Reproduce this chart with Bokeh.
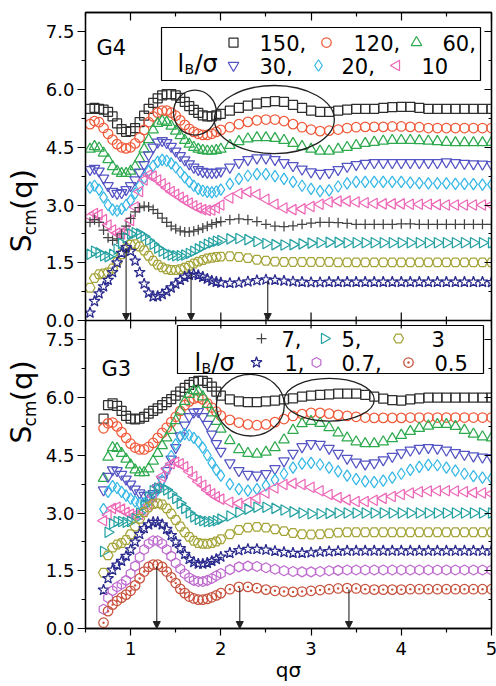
import math
from bokeh.plotting import figure
from bokeh.layouts import row
from bokeh.models import (Range1d, FixedTicker, LinearAxis, PrintfTickFormatter, Label, Arrow,
                          NormalHead, BoxAnnotation, Span, CustomLabelingPolicy)
from bokeh.core.properties import value
from bokeh.embed import file_html
from bokeh.resources import INLINE

FONT = "DejaVu Sans"

# ---------------- data: panel G4 (top) ----------------
q_g4 = [0.55, 0.60, 0.65, 0.70, 0.75, 0.80, 0.85, 0.90, 0.95, 1.00, 1.05, 1.10, 1.15, 1.20, 1.25,
        1.30, 1.35, 1.40, 1.45, 1.50, 1.55, 1.60, 1.65, 1.70, 1.75, 1.80, 1.85, 1.90, 1.95,
        2.0, 2.1, 2.2, 2.3, 2.4, 2.5, 2.6, 2.7, 2.8, 2.9, 3.0, 3.1, 3.2, 3.3, 3.4, 3.5, 3.6, 3.7,
        3.8, 3.9, 4.0, 4.1, 4.2, 4.3, 4.4, 4.5, 4.6, 4.7, 4.8, 4.9, 5.0]

g4_150 = [5.5, 5.52, 5.5, 5.48, 5.42, 5.3, 5.12, 4.97, 4.9, 4.92, 5.0, 5.15, 5.32, 5.5, 5.65,
          5.77, 5.85, 5.88, 5.88, 5.85, 5.78, 5.68, 5.57, 5.47, 5.39, 5.33, 5.3, 5.3, 5.33,
          5.37, 5.45, 5.52, 5.58, 5.63, 5.67, 5.7, 5.68, 5.6, 5.52, 5.45, 5.42, 5.42, 5.45, 5.48, 5.5,
          5.5, 5.5, 5.52, 5.54, 5.55, 5.55, 5.52, 5.5, 5.5, 5.5, 5.5, 5.5, 5.5, 5.5, 5.5]
g4_120 = [5.1, 5.18, 5.15, 5.0, 4.85, 4.7, 4.58, 4.5, 4.47, 4.5, 4.6, 4.75, 4.95, 5.15, 5.3,
          5.4, 5.45, 5.45, 5.4, 5.32, 5.2, 5.08, 4.98, 4.9, 4.85, 4.82, 4.82, 4.85, 4.9,
          4.95, 5.02, 5.1, 5.16, 5.2, 5.22, 5.22, 5.18, 5.1, 5.02, 4.96, 4.92, 4.93, 4.96, 5.0, 5.02,
          5.03, 5.03, 5.03, 5.04, 5.04, 5.03, 5.02, 5.0, 5.0, 5.0, 5.0, 5.0, 5.0, 5.0, 5.0]
g4_60 = [4.45, 4.52, 4.48, 4.35, 4.18, 4.0, 3.88, 3.82, 3.82, 3.88, 4.0, 4.2, 4.45, 4.7, 4.95,
         5.12, 5.18, 5.15, 5.05, 4.92, 4.8, 4.68, 4.58, 4.5, 4.45, 4.42, 4.4, 4.4, 4.42,
         4.45, 4.55, 4.65, 4.72, 4.75, 4.75, 4.73, 4.68, 4.6, 4.52, 4.45, 4.4, 4.4, 4.45, 4.5, 4.55,
         4.6, 4.63, 4.66, 4.68, 4.68, 4.68, 4.67, 4.66, 4.65, 4.63, 4.62, 4.62, 4.62, 4.62, 4.63]
g4_30 = [3.92, 3.95, 3.88, 3.7, 3.5, 3.35, 3.3, 3.32, 3.4, 3.5, 3.65, 3.85, 4.05, 4.3, 4.5,
         4.63, 4.67, 4.62, 4.52, 4.4, 4.28, 4.17, 4.07, 3.98, 3.92, 3.87, 3.85, 3.84, 3.85,
         3.88, 3.98, 4.1, 4.18, 4.22, 4.22, 4.18, 4.1, 4.02, 3.93, 3.86, 3.82, 3.84, 3.92, 4.0, 4.05,
         4.08, 4.1, 4.1, 4.1, 4.1, 4.1, 4.1, 4.1, 4.1, 4.12, 4.1, 4.08, 4.07, 4.06, 4.05]
g4_20 = [3.45, 3.5, 3.4, 3.2, 3.0, 2.88, 2.85, 2.9, 3.0, 3.12, 3.3, 3.5, 3.7, 3.88, 4.02,
         4.12, 4.17, 4.15, 4.08, 3.98, 3.85, 3.72, 3.6, 3.5, 3.42, 3.37, 3.34, 3.33, 3.35,
         3.4, 3.55, 3.68, 3.76, 3.8, 3.8, 3.75, 3.68, 3.6, 3.5, 3.42, 3.36, 3.38, 3.48, 3.56, 3.6,
         3.6, 3.6, 3.6, 3.6, 3.6, 3.58, 3.57, 3.56, 3.56, 3.56, 3.55, 3.55, 3.54, 3.53, 3.53]
g4_10 = [2.7, 2.78, 2.75, 2.62, 2.48, 2.35, 2.27, 2.25, 2.35, 2.6, 2.95, 3.35, 3.65, 3.78, 3.75,
         3.65, 3.55, 3.45, 3.35, 3.28, 3.2, 3.12, 3.05, 2.98, 2.92, 2.88, 2.86, 2.87, 2.92,
         3.0, 3.18, 3.3, 3.34, 3.28, 3.15, 3.02, 2.92, 2.88, 2.9, 2.96, 3.02, 3.08, 3.1, 3.1, 3.08,
         3.06, 3.04, 3.03, 3.03, 3.03, 3.02, 3.02, 3.02, 3.01, 3.0, 3.0, 3.0, 3.0, 3.0, 3.0]
g4_7 = [2.55, 2.62, 2.55, 2.35, 2.15, 2.08, 2.12, 2.25, 2.45, 2.65, 2.82, 2.93, 2.97, 2.95, 2.88,
        2.78, 2.66, 2.55, 2.45, 2.38, 2.33, 2.3, 2.3, 2.32, 2.36, 2.4, 2.45, 2.5, 2.54,
        2.57, 2.62, 2.64, 2.62, 2.57, 2.5, 2.45, 2.44, 2.46, 2.5, 2.53, 2.55, 2.55, 2.54, 2.52, 2.5,
        2.5, 2.5, 2.5, 2.5, 2.51, 2.51, 2.5, 2.5, 2.5, 2.5, 2.5, 2.5, 2.5, 2.5, 2.5]
g4_5 = [1.72, 1.8, 1.76, 1.68, 1.66, 1.72, 1.85, 2.0, 2.15, 2.25, 2.28, 2.25, 2.18, 2.08, 1.98,
        1.88, 1.8, 1.74, 1.7, 1.68, 1.68, 1.7, 1.74, 1.8, 1.86, 1.92, 1.98, 2.02, 2.06,
        2.08, 2.12, 2.13, 2.1, 2.05, 2.0, 1.97, 1.96, 1.97, 1.99, 2.01, 2.02, 2.03, 2.03, 2.02, 2.02,
        2.02, 2.02, 2.02, 2.02, 2.02, 2.02, 2.02, 2.02, 2.02, 2.02, 2.02, 2.02, 2.02, 2.02, 2.02]
g4_3 = [0.85, 1.1, 1.2, 1.22, 1.25, 1.35, 1.52, 1.72, 1.88, 1.97, 1.98, 1.92, 1.82, 1.68, 1.55,
        1.45, 1.38, 1.33, 1.31, 1.31, 1.33, 1.37, 1.42, 1.48, 1.53, 1.57, 1.61, 1.63, 1.65,
        1.66, 1.67, 1.65, 1.62, 1.58, 1.55, 1.53, 1.52, 1.52, 1.52, 1.52, 1.52, 1.52, 1.51, 1.51, 1.51,
        1.51, 1.51, 1.51, 1.51, 1.51, 1.51, 1.51, 1.51, 1.51, 1.51, 1.51, 1.51, 1.51, 1.51, 1.51]
g4_1 = [0.2, 0.5, 0.7, 0.88, 1.05, 1.25, 1.5, 1.75, 1.9, 1.8, 1.55, 1.25, 0.95, 0.72, 0.62,
        0.63, 0.68, 0.76, 0.85, 0.95, 1.05, 1.13, 1.18, 1.2, 1.18, 1.13, 1.08, 1.03, 1.0,
        0.98, 0.97, 0.98, 1.01, 1.04, 1.06, 1.05, 1.03, 1.01, 1.0, 0.99, 0.99, 1.0, 1.0, 1.0, 1.0,
        1.0, 1.0, 1.0, 1.0, 1.0, 1.0, 1.0, 1.0, 1.0, 1.0, 1.0, 1.0, 1.0, 1.0, 0.99]

# ---------------- data: panel G3 (bottom) ----------------
q_g3 = [0.70, 0.75, 0.80, 0.85, 0.90, 0.95, 1.00, 1.05, 1.10, 1.15, 1.20, 1.25, 1.30, 1.35,
        1.40, 1.45, 1.50, 1.55, 1.60, 1.65, 1.70, 1.75, 1.80, 1.85, 1.90, 1.95,
        2.0, 2.1, 2.2, 2.3, 2.4, 2.5, 2.6, 2.7, 2.8, 2.9, 3.0, 3.1, 3.2, 3.3, 3.4, 3.5, 3.6, 3.7,
        3.8, 3.9, 4.0, 4.1, 4.2, 4.3, 4.4, 4.5, 4.6, 4.7, 4.8, 4.9, 5.0]

g3_150 = [5.45, 5.8, 5.85, 5.78, 5.65, 5.52, 5.45, 5.43, 5.45, 5.5, 5.58, 5.65, 5.72, 5.8,
          5.88, 5.96, 6.05, 6.15, 6.25, 6.33, 6.4, 6.43, 6.43, 6.38, 6.28, 6.15,
          6.05, 5.95, 5.9, 5.88, 5.88, 5.9, 5.92, 5.95, 5.98, 6.02, 6.05, 6.07, 6.08, 6.1, 6.1, 6.1,
          6.07, 6.02, 5.97, 5.93, 5.92, 5.95, 5.98, 6.0, 6.0, 6.0, 6.0, 6.0, 6.0, 6.0, 6.0]
g3_120 = [5.2, 5.33, 5.35, 5.25, 5.1, 4.95, 4.8, 4.7, 4.65, 4.65, 4.72, 4.82, 4.95, 5.08,
          5.22, 5.36, 5.5, 5.65, 5.8, 5.9, 5.97, 6.0, 5.95, 5.85, 5.74, 5.63,
          5.53, 5.42, 5.35, 5.3, 5.28, 5.3, 5.36, 5.44, 5.52, 5.57, 5.6, 5.6, 5.58, 5.55, 5.52, 5.5,
          5.48, 5.47, 5.47, 5.47, 5.47, 5.48, 5.48, 5.48, 5.48, 5.48, 5.48, 5.48, 5.48, 5.48, 5.48]
g3_60 = [3.9, 4.45, 4.7, 4.68, 4.55, 4.4, 4.25, 4.12, 4.05, 4.05, 4.15, 4.35, 4.55, 4.75,
         4.95, 5.15, 5.4, 5.65, 5.9, 6.08, 6.18, 6.15, 6.02, 5.82, 5.6, 5.38,
         5.18, 4.88, 4.65, 4.55, 4.53, 4.58, 4.7, 4.9, 5.15, 5.32, 5.38, 5.33, 5.22, 5.08, 4.95, 4.85,
         4.8, 4.8, 4.85, 4.93, 5.02, 5.12, 5.2, 5.26, 5.3, 5.3, 5.25, 5.15, 5.05, 4.98, 4.95]
g3_30 = [3.6, 3.95, 4.12, 4.1, 4.0, 3.88, 3.75, 3.62, 3.52, 3.46, 3.45, 3.5, 3.65, 3.85,
         4.1, 4.4, 4.7, 5.0, 5.28, 5.5, 5.62, 5.63, 5.5, 5.3, 5.05, 4.8,
         4.6, 4.3, 4.1, 4.0, 3.98, 4.02, 4.15, 4.35, 4.55, 4.72, 4.8, 4.78, 4.68, 4.55, 4.42, 4.32,
         4.27, 4.3, 4.38, 4.47, 4.56, 4.63, 4.68, 4.7, 4.68, 4.63, 4.57, 4.52, 4.48, 4.45, 4.44]
g3_20 = [3.1, 3.55, 3.7, 3.65, 3.55, 3.45, 3.37, 3.3, 3.26, 3.25, 3.3, 3.42, 3.6, 3.85,
         4.15, 4.48, 4.78, 4.98, 5.05, 5.02, 4.95, 4.85, 4.7, 4.5, 4.3, 4.12,
         3.97, 3.75, 3.62, 3.58, 3.62, 3.72, 3.86, 4.02, 4.18, 4.28, 4.3, 4.26, 4.18, 4.08, 3.97, 3.88,
         3.82, 3.8, 3.84, 3.92, 4.02, 4.12, 4.2, 4.25, 4.24, 4.18, 4.1, 4.02, 3.96, 3.92, 3.9]
g3_10 = [2.8, 2.95, 3.12, 3.15, 3.1, 3.02, 2.97, 2.95, 2.96, 3.05, 3.2, 3.42, 3.68, 3.95,
         4.15, 4.28, 4.32, 4.28, 4.2, 4.08, 3.95, 3.82, 3.72, 3.6, 3.5, 3.42,
         3.36, 3.28, 3.25, 3.28, 3.38, 3.52, 3.65, 3.74, 3.77, 3.74, 3.67, 3.58, 3.48, 3.4, 3.34, 3.3,
         3.3, 3.33, 3.38, 3.43, 3.48, 3.52, 3.55, 3.57, 3.58, 3.58, 3.57, 3.55, 3.53, 3.52, 3.5]
g3_5 = [2.0, 2.5, 2.72, 2.78, 2.78, 2.76, 2.78, 2.85, 3.0, 3.2, 3.42, 3.58, 3.65, 3.65,
        3.6, 3.5, 3.38, 3.25, 3.12, 3.0, 2.9, 2.83, 2.8, 2.78, 2.78, 2.8,
        2.84, 2.92, 3.02, 3.1, 3.15, 3.15, 3.12, 3.08, 3.03, 3.0, 2.98, 2.98, 2.99, 3.0, 3.0, 3.0,
        3.0, 3.0, 3.0, 3.0, 3.0, 3.0, 3.0, 3.0, 3.0, 3.0, 3.0, 3.0, 3.0, 3.0, 3.0]
g3_3 = [1.45, 1.9, 2.1, 2.18, 2.22, 2.3, 2.45, 2.65, 2.85, 3.02, 3.15, 3.23, 3.25, 3.22,
        3.12, 2.98, 2.82, 2.65, 2.5, 2.38, 2.28, 2.22, 2.2, 2.2, 2.22, 2.26,
        2.32, 2.45, 2.56, 2.62, 2.64, 2.62, 2.58, 2.53, 2.48, 2.45, 2.44, 2.45, 2.47, 2.49, 2.5, 2.5,
        2.5, 2.5, 2.5, 2.5, 2.5, 2.5, 2.5, 2.5, 2.5, 2.5, 2.5, 2.5, 2.5, 2.5, 2.5]
g3_1 = [1.0, 1.3, 1.52, 1.65, 1.75, 1.88, 2.05, 2.25, 2.45, 2.6, 2.7, 2.76, 2.76, 2.7,
        2.58, 2.42, 2.25, 2.08, 1.93, 1.8, 1.72, 1.68, 1.68, 1.7, 1.75, 1.8,
        1.86, 1.96, 2.03, 2.06, 2.06, 2.04, 2.01, 1.98, 1.96, 1.96, 1.97, 1.99, 2.0, 2.01, 2.02, 2.02,
        2.02, 2.02, 2.02, 2.02, 2.02, 2.02, 2.02, 2.02, 2.02, 2.02, 2.02, 2.02, 2.02, 2.02, 2.02]
g3_07 = [0.5, 0.8, 0.98, 1.08, 1.15, 1.25, 1.42, 1.62, 1.85, 2.05, 2.2, 2.28, 2.28, 2.2,
         2.05, 1.88, 1.7, 1.55, 1.42, 1.32, 1.25, 1.22, 1.22, 1.25, 1.3, 1.37,
         1.43, 1.53, 1.6, 1.62, 1.61, 1.58, 1.54, 1.5, 1.48, 1.47, 1.47, 1.48, 1.5, 1.51, 1.52, 1.52,
         1.52, 1.52, 1.52, 1.52, 1.52, 1.52, 1.52, 1.52, 1.52, 1.52, 1.52, 1.52, 1.52, 1.52, 1.52]
g3_05 = [0.15, 0.45, 0.62, 0.72, 0.8, 0.88, 0.98, 1.12, 1.3, 1.48, 1.6, 1.66, 1.66, 1.6,
         1.48, 1.33, 1.18, 1.03, 0.92, 0.83, 0.78, 0.75, 0.75, 0.77, 0.81, 0.86,
         0.92, 1.02, 1.08, 1.08, 1.05, 1.01, 0.98, 0.96, 0.95, 0.96, 0.98, 1.0, 1.02, 1.04, 1.05, 1.04,
         1.02, 1.01, 1.01, 1.01, 1.01, 1.02, 1.02, 1.02, 1.02, 1.02, 1.02, 1.02, 1.02, 1.02, 1.02]

# arrows (q position, top of arrow) and ellipses (cx, cy, w, h)
arrow_q_g4 = [0.95, 1.67, 2.52]
arrow_top_g4 = [1.88, 1.22, 1.03]
arrow_q_g3 = [1.29, 2.21, 3.42]
arrow_top_g3 = [1.62, 1.05, 1.02]
ell_g4 = dict(x=[1.713, 2.593], y=[5.40, 5.22], w=[0.476, 1.33], h=[1.17, 1.77])
ell_g3 = dict(x=[2.327, 3.202], y=[5.80, 5.94], w=[0.753, 0.997], h=[1.60, 1.11])

x_ticks = [1, 2, 3, 4, 5]
x_minor = [0.5, 1.5, 2.5, 3.5, 4.5]
y_ticks = [0.0, 1.5, 3.0, 4.5, 6.0, 7.5]
y_minor = [0.75, 2.25, 3.75, 5.25, 6.75]
x_label = "qσ"
legend_g4 = [("150", "150,"), ("120", "120,"), ("60", "60,"), ("30", "30,"), ("20", "20,"), ("10", "10")]
legend_g3 = [("7", "7,"), ("5", "5,"), ("3", "3"), ("1", "1,"), ("0.7", "0.7,"), ("0.5", "0.5")]

# style per l_B/sigma value: marker, angle, colour, size
STYLE = {
    "150": ("square", 0.0, "#2e2e2e", 9),
    "120": ("circle", 0.0, "#f05a3a", 9.5),
    "60": ("triangle", 0.0, "#2eaa4e", 10.5),
    "30": ("inverted_triangle", 0.0, "#5454c4", 10.5),
    "20": ("diamond", 0.0, "#36b8e6", 11.5),
    "10": ("triangle", math.pi / 2, "#ee68b8", 10.5),
    "7": ("cross", 0.0, "#444444", 10),
    "5": ("triangle", -math.pi / 2, "#26a2a2", 10.5),
    "3": ("hex", 0.0, "#a4a43a", 10),
    "1": ("star", 0.0, "#2c2c8e", 11.5),
    "0.7": ("hex", math.pi / 6, "#bf6ccf", 10),
    "0.5": ("circle_dot", 0.0, "#c8523e", 9.5),
}

series_g4 = [("150", g4_150), ("120", g4_120), ("60", g4_60), ("30", g4_30), ("20", g4_20),
             ("10", g4_10), ("7", g4_7), ("5", g4_5), ("3", g4_3), ("1", g4_1)]
series_g3 = [("150", g3_150), ("120", g3_120), ("60", g3_60), ("30", g3_30), ("20", g3_20),
             ("10", g3_10), ("5", g3_5), ("3", g3_3), ("1", g3_1), ("0.7", g3_07), ("0.5", g3_05)]

# ---------------- geometry (page pixels) ----------------
LABW = 42                  # width of the y-label strip
FL, FW = 84, 406           # frame left / width
FT, FH = 12, 616           # frame top / height
PPU = FH / 16.0            # pixels per unit of S
X0, X1 = 0.5, 5.0
SEP = 8.0                  # G4 panel sits 8 units above G3 panel
Y_TOP0 = FT + FH - SEP * PPU   # pixel of S=0 in G4 panel
Y_BOT0 = FT + FH               # pixel of S=0 in G3 panel


def qx(px):
    return X0 + (px - FL) * (X1 - X0) / FW


def sy1(py):
    return (Y_TOP0 - py) / PPU


def sy2(py):
    return (Y_BOT0 - py) / PPU


p = figure(frame_width=FW, frame_height=FH, x_range=Range1d(X0, X1), y_range=Range1d(0, 2 * SEP),
           x_axis_location=None, y_axis_location=None, output_backend="svg",
           toolbar_location=None, min_border_left=FL - LABW, min_border_right=496 - FL - FW,
           min_border_top=FT, min_border_bottom=686 - FT - FH,
           background_fill_color="white", border_fill_color="white")
p.extra_y_ranges = {"g4": Range1d(-SEP, SEP)}
for g in p.grid:
    g.visible = False
p.outline_line_color = "black"
p.outline_line_width = 1.3

all_y_ticks = y_ticks + [t + SEP for t in y_ticks]
all_y_minor = y_minor + [t + SEP for t in y_minor]
yt = FixedTicker(ticks=all_y_ticks, minor_ticks=all_y_minor)
xt = FixedTicker(ticks=x_ticks, minor_ticks=x_minor)

left = LinearAxis(ticker=yt, formatter=PrintfTickFormatter(format="%.1f"),
                  major_label_overrides={t + SEP: "%.1f" % t for t in y_ticks})
left.major_tick_out = 8
left.minor_tick_out = 4
left.major_tick_in = 0
left.minor_tick_in = 0
left.major_label_standoff = 3
left.major_label_text_font = FONT
left.major_label_text_font_size = "18px"
left.major_label_text_color = "black"
left.axis_line_width = 1.3
left.major_tick_line_width = 1.2
left.minor_tick_line_width = 1.2
p.add_layout(left, "left")

no_labels = "for (const i of indices) { indices.unset(i) }\nreturn indices"


def inner_axis(ticker, tin):
    ax = LinearAxis(ticker=ticker)
    ax.major_label_policy = CustomLabelingPolicy(code=no_labels)
    ax.major_label_text_font_size = "0px"
    ax.major_label_standoff = 0
    ax.major_tick_out = 0
    ax.minor_tick_out = 0
    ax.major_tick_in = tin
    ax.minor_tick_in = tin // 2
    ax.axis_line_width = 1.3
    ax.major_tick_line_width = 1.2
    ax.minor_tick_line_width = 1.2
    return ax


p.add_layout(inner_axis(yt, 7), "right")
p.add_layout(inner_axis(xt, 8), "above")

bottom = LinearAxis(ticker=xt, axis_label=x_label)
bottom.major_tick_out = 7
bottom.minor_tick_out = 4
bottom.major_tick_in = 0
bottom.minor_tick_in = 0
bottom.major_label_standoff = 6
bottom.major_label_text_font = FONT
bottom.major_label_text_font_size = "18px"
bottom.major_label_text_color = "black"
bottom.axis_label_text_font = FONT
bottom.axis_label_text_font_size = "20px"
bottom.axis_label_text_font_style = "normal"
bottom.axis_label_text_color = "black"
bottom.axis_label_standoff = 0
bottom.axis_line_width = 1.3
bottom.major_tick_line_width = 1.2
bottom.minor_tick_line_width = 1.2
p.add_layout(bottom, "below")

# separator between the two panels, with ticks on both sides
p.add_layout(Span(location=SEP, dimension="width", line_color="black", line_width=1.3))
maj_len, min_len = 8 / PPU, 4 / PPU
p.segment(x0=x_ticks, y0=[SEP - maj_len] * len(x_ticks), x1=x_ticks, y1=[SEP + maj_len] * len(x_ticks),
          line_color="black", line_width=1.2)
p.segment(x0=x_minor, y0=[SEP - min_len] * len(x_minor), x1=x_minor, y1=[SEP + min_len] * len(x_minor),
          line_color="black", line_width=1.2)


def draw_series(q, series, yname):
    for key, vals in series:
        m, ang, col, sz = STYLE[key]
        p.scatter(q, vals, marker=m, angle=ang, size=sz, line_color=col, fill_color=None,
                  line_width=1.25, y_range_name=yname)


def arrows(qs, tops, yname):
    for qv, tv in zip(qs, tops):
        p.add_layout(Arrow(end=NormalHead(size=7, fill_color="#222222", line_color="#222222"),
                           x_start=qv, y_start=tv, x_end=qv, y_end=0.0, y_range_name=yname,
                           line_color="#222222", line_width=1.1))


def text(x, y, s, size, yname, baseline="alphabetic", align="left"):
    p.add_layout(Label(x=x, y=y, text=s, text_font=FONT, text_font_size=size, text_color="black",
                       text_align=align, text_baseline=baseline, y_range_name=yname))


def legend_box(sy, yname, l, r, t, b):
    p.add_layout(BoxAnnotation(left=qx(l), right=qx(r), top=sy(t), bottom=sy(b), level="underlay",
                               fill_color="white", fill_alpha=1.0, line_color="black",
                               line_width=1.2, line_alpha=1.0, y_range_name=yname))


def legend_title(sy, yname, x, base_y):
    text(qx(x), sy(base_y), "l", "24px", yname)
    text(qx(x + 7), sy(base_y + 5), "B", "14px", yname)
    text(qx(x + 17), sy(base_y), "/σ", "24px", yname)


def legend_entries(sy, yname, entries, mxs, txs, rows_y):
    for i, (key, lbl) in enumerate(entries):
        m, ang, col, sz = STYLE[key]
        yy = rows_y[i // 3]
        p.scatter([qx(mxs[i])], [sy(yy)], marker=m, angle=ang, size=sz, line_color=col,
                  fill_color=None, line_width=1.25, y_range_name=yname)
        text(qx(txs[i]), sy(yy), lbl, "21px", yname, baseline="middle")


# ---------------- G4 panel ----------------
draw_series(q_g4, series_g4, "g4")
p.ellipse(x=ell_g4["x"], y=ell_g4["y"], width=ell_g4["w"], height=ell_g4["h"],
          fill_color=None, line_color="#222222", line_width=1.3, y_range_name="g4")
arrows(arrow_q_g4, arrow_top_g4, "g4")
legend_box(sy1, "g4", 160, 479, 27, 80)
legend_title(sy1, "g4", 176, 63)
legend_entries(sy1, "g4", legend_g4, [232, 325, 415, 232, 317, 395], [258, 352, 441, 258, 340, 420], [42, 65])
text(qx(95), sy1(47), "G4", "21px", "g4")

# ---------------- G3 panel ----------------
draw_series(q_g3, series_g3, "default")
p.ellipse(x=ell_g3["x"], y=ell_g3["y"], width=ell_g3["w"], height=ell_g3["h"],
          fill_color=None, line_color="#222222", line_width=1.3)
arrows(arrow_q_g3, arrow_top_g3, "default")
legend_box(sy2, "default", 176, 482, 325, 373)
legend_title(sy2, "default", 193, 362)
legend_entries(sy2, "default", legend_g3, [260, 323, 397, 255, 315, 407], [280, 340, 430, 283, 340, 433], [338, 362])
text(qx(100), sy2(368), "G3", "21px", "default")

# ---------------- y-label strip ----------------
lab = figure(width=LABW, height=686, x_range=Range1d(0, LABW), y_range=Range1d(686, 0),
             x_axis_location=None, y_axis_location=None, output_backend="svg",
             toolbar_location=None, min_border_left=0, min_border_right=0,
             min_border_top=0, min_border_bottom=0, background_fill_color="white",
             border_fill_color="white")
lab.outline_line_color = None
for g in lab.grid:
    g.visible = False
for y0 in (267, 480):
    lab.text(x=[21], y=[y0], text=["S"], angle=math.pi / 2, text_font=value(FONT),
             text_font_size="28px", text_align="left", text_baseline="middle", text_color="black")
    lab.text(x=[29], y=[y0 - 19], text=["cm"], angle=math.pi / 2, text_font=value(FONT),
             text_font_size="17px", text_align="left", text_baseline="middle", text_color="black")
    lab.text(x=[21], y=[y0 - 47], text=["(q)"], angle=math.pi / 2, text_font=value(FONT),
             text_font_size="29px", text_align="left", text_baseline="middle", text_color="black")

layout = row(lab, p, spacing=0)
open("out.html", "w").write(file_html(layout, INLINE))
